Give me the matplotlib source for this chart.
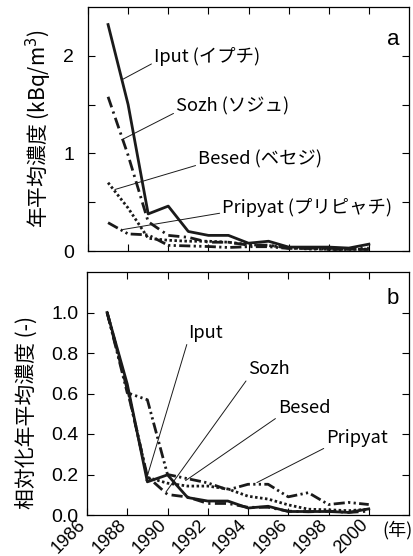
import numpy as np
import matplotlib
matplotlib.use("Agg")
import matplotlib.pyplot as plt
from matplotlib.transforms import ScaledTranslation

plt.rcParams["font.family"] = ["Liberation Sans", "Noto Sans CJK JP", "DejaVu Sans"]
JP = ["Noto Sans CJK JP", "DejaVu Sans"]

# 年平均濃度 (kBq/m3), 1987-2000
years = [1987, 1988, 1989, 1990, 1991, 1992, 1993, 1994, 1995, 1996, 1997, 1998, 1999, 2000]
iput = [2.32, 1.50, 0.38, 0.46, 0.20, 0.16, 0.16, 0.08, 0.10, 0.04, 0.04, 0.04, 0.03, 0.07]
sozh = [1.58, 0.98, 0.30, 0.16, 0.14, 0.09, 0.09, 0.06, 0.06, 0.03, 0.025, 0.03, 0.02, 0.03]
besed = [0.70, 0.44, 0.13, 0.11, 0.10, 0.10, 0.09, 0.065, 0.055, 0.035, 0.02, 0.018, 0.015, 0.02]
pripyat = [0.29, 0.175, 0.165, 0.058, 0.052, 0.046, 0.036, 0.044, 0.044, 0.026, 0.032, 0.015, 0.018, 0.015]

names_a = ["Iput (イプチ)", "Sozh (ソジュ)", "Besed (ベセジ)", "Pripyat (プリピャチ)"]
names_b = ["Iput", "Sozh", "Besed", "Pripyat"]
xticks = [1986, 1988, 1990, 1992, 1994, 1996, 1998, 2000]

series = [iput, sozh, besed, pripyat]
styles = [
    dict(ls="-", lw=2.0),
    dict(ls=(0, (4, 1.6, 0.8, 1.6)), lw=2.0),
    dict(ls=(0, (0.9, 0.9)), lw=2.0),
    dict(ls=(0, (4, 1.2, 0.8, 1.2, 0.8, 1.2)), lw=2.0),
]

fig = plt.figure(figsize=(4.14, 5.56), dpi=100)
ax1 = fig.add_axes([88 / 414, 1 - 251 / 556, 321 / 414, 244 / 556])
ax2 = fig.add_axes([87 / 414, 1 - 515 / 556, 322 / 414, 243 / 556])

for vals, st in zip(series, styles):
    v = np.array(vals)
    ax1.plot(years, v, color="#1a1a1a", **st)
    ax2.plot(years, v / v[0], color="#1a1a1a", **st)

for ax in (ax1, ax2):
    ax.set_xlim(1986, 2002)
    ax.set_xticks(xticks)
    ax.tick_params(direction="in", length=5, width=0.8, top=True, right=True,
                   labelsize=14)
    for sp in ax.spines.values():
        sp.set_linewidth(0.9)

ax1.set_ylim(0, 2.5)
ax1.set_yticks([0, 0.5, 1, 1.5, 2])
ax1.set_yticklabels(["0", "", "1", "", "2"])
ax1.tick_params(labelbottom=False)
ax1.tick_params(axis="y", pad=10)
ax1.set_ylabel("年平均濃度 (kBq/m$^3$)", family=JP, fontsize=15)
ax1.yaxis.set_label_coords(-0.106, 0.50)

ax2.set_ylim(0, 1.2)
ax2.set_yticks([0, 0.2, 0.4, 0.6, 0.8, 1.0])
ax2.set_yticklabels(["0.0", "0.2", "0.4", "0.6", "0.8", "1.0"])
ax2.tick_params(axis="y", pad=6)
ax2.set_xticklabels([str(y) for y in xticks], rotation=45, ha="right", va="top",
                    rotation_mode="anchor", fontsize=13)
ax2.tick_params(axis="x", pad=1)
shift = ScaledTranslation(-7 / 72, 0, fig.dpi_scale_trans)
for lab in ax2.get_xticklabels():
    lab.set_transform(lab.get_transform() + shift)
ax2.set_ylabel("相対化年平均濃度 (-)", family=JP, fontsize=15)
ax2.yaxis.set_label_coords(-0.153, 0.42)

# 河川名ラベルと引き出し線
lead = dict(arrowstyle="-", lw=0.7, color="#1a1a1a", shrinkA=0, shrinkB=0)
pos_a = [((1987.74, 1.76), (1989.3, 1.99)),
         ((1987.69, 1.14), (1990.4, 1.48)),
         ((1987.34, 0.63), (1991.5, 0.94)),
         ((1987.74, 0.22), (1992.7, 0.45))]
for name, (xy, xt) in zip(names_a, pos_a):
    ax1.annotate(name, xy=xy, xytext=xt, family=JP, fontsize=13.2, ha="left",
                 va="center", arrowprops=dict(relpos=(0, 0.2), **lead))

pos_b = [((1988.93, 0.17), (1991.0, 0.90)),
         ((1989.92, 0.113), (1994.0, 0.72)),
         ((1990.9, 0.17), (1995.5, 0.53)),
         ((1994.44, 0.16), (1997.9, 0.38))]
for name, (xy, xt) in zip(names_b, pos_b):
    ax2.annotate(name, xy=xy, xytext=xt, family=JP, fontsize=13.2, ha="left",
                 va="center", arrowprops=dict(relpos=(0, 0.0), **lead))

ax1.text(0.97, 0.865, "a", transform=ax1.transAxes, fontsize=16, ha="right", va="center")
ax2.text(0.97, 0.893, "b", transform=ax2.transAxes, fontsize=16, ha="right", va="center")
fig.text(382 / 414, 1 - 530 / 556, "(年)", family=JP, fontsize=13, ha="left", va="center")

fig.savefig("out.png", dpi=100)
